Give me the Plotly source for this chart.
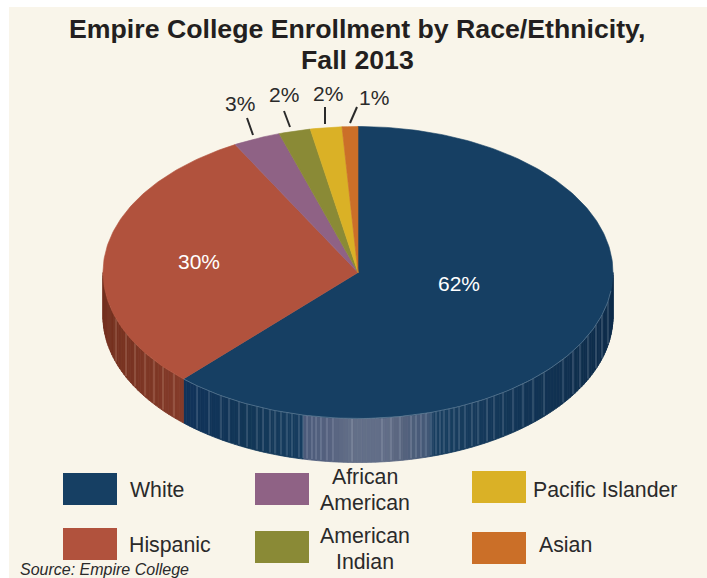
import numpy as np
import plotly.graph_objects as go

# ---- data
categories = ["White", "Hispanic", "African American", "American Indian", "Pacific Islander", "Asian"]
shares = [62, 30, 3, 2, 2, 1]
percent_labels = ["62%", "30%", "3%", "2%", "2%", "1%"]
colors = ["#163F63", "#B1523D", "#8F6285", "#8A8A36", "#DAB126", "#CB6F28"]
legend_labels = ["White", "Hispanic", "African<br>American", "American<br>Indian", "Pacific Islander", "Asian"]
title_lines = ["Empire College Enrollment by Race/Ethnicity,", "Fall 2013"]

W, H = 707, 578
CX, CY, RX, RY, DEPTH = 358, 272.5, 255, 146, 44
BG = "#F9F5EA"
FONT = "Liberation Sans"
INK = "#2A2A2A"

def pt(a, dy=0.0):
    """a = clockwise fraction of the circle from 12 o'clock."""
    t = 2 * np.pi * np.asarray(a, float)
    return CX + RX * np.sin(t), CY - RY * np.cos(t) + dy

def hexmix(c1, c2, f):
    a = [int(c1[i:i + 2], 16) for i in (1, 3, 5)]
    b = [int(c2[i:i + 2], 16) for i in (1, 3, 5)]
    return "#" + "".join(f"{int(round(x + (y - x) * f)):02X}" for x, y in zip(a, b))

def wall_color(x, is_blue):
    if not is_blue:
        return hexmix("#74301F", "#853C2A", np.clip((x - 103) / 82, 0, 1))
    stops_x = [185, 250, 302, 304, 330, 350, 385, 400, 430, 432, 520, 613]
    stops_c = ["#11335A", "#123757", "#163D60", "#4A5A7A", "#56627F", "#636F88",
               "#626E88", "#58657F", "#3F5575", "#193F61", "#123556", "#0E2C4A"]
    i = int(np.clip(np.searchsorted(stops_x, x) - 1, 0, len(stops_x) - 2))
    f = (x - stops_x[i]) / (stops_x[i + 1] - stops_x[i])
    return hexmix(stops_c[i], stops_c[i + 1], f)

fig = go.Figure()
total = sum(shares)
edges = np.cumsum([0] + shares) / total

def poly(xs, ys, color, line=None, lw=1.0):
    fig.add_trace(go.Scatter(x=xs, y=ys, mode="lines", fill="toself", fillcolor=color,
                             line=dict(color=line or color, width=lw),
                             hoverinfo="skip", showlegend=False))

# side wall: only the visible (front) arcs of White and Hispanic
blue_end = edges[1]
for lo, hi, blue in [(0.25, blue_end, True), (blue_end, 0.75, False)]:
    steps = np.linspace(lo, hi, 131 if blue else 41)
    for a0, a1 in zip(steps[:-1], steps[1:]):
        aa = np.linspace(a0, a1, 3)
        xt, yt = pt(aa)
        xb, yb = pt(aa[::-1], DEPTH)
        xm = CX + RX * np.sin(2 * np.pi * (a0 + a1) / 2)
        poly(np.r_[xt, xb, xt[0]], np.r_[yt, yb, yt[0]], wall_color(xm, blue), lw=0.8)

# facet ribs of the wall, as horizontal offsets on the ellipse
rib_x = [116, 126, 135, 145, 154, 163, 174,
         197, 209, 221, 229, 239, 247, 257, 263, 270, 275, 281, 287, 292, 299,
         303, 307, 312, 316, 321, 327, 333, 352, 382, 391, 400, 411, 416, 421,
         426, 431, 436, 440, 444, 449, 454, 459, 465, 472, 478, 487, 494, 503, 513,
         523, 533, 544, 563, 573, 580, 588, 596, 602, 608]
for x in rib_x:
    s = np.sqrt(max(0, 1 - ((x - CX) / RX) ** 2))
    ytop = CY + RY * s
    dark = x < 185
    col = "rgba(225,190,170,0.38)" if dark else "rgba(215,222,232,0.30)"
    fig.add_trace(go.Scatter(x=[x, x], y=[ytop, ytop + DEPTH - 1], mode="lines",
                             line=dict(color=col, width=1), hoverinfo="skip", showlegend=False))

# top face wedges
for i, c in enumerate(colors):
    aa = np.linspace(edges[i], edges[i + 1], max(4, int(shares[i] * 4)))
    xs, ys = pt(aa)
    poly(np.r_[CX, xs, CX], np.r_[CY, ys, CY], c, line=c, lw=0.6)

# pale rim on the front-right edge of the top face
aa = np.linspace(0.27, blue_end, 120)
xs, ys = pt(aa)
fig.add_trace(go.Scatter(x=xs, y=ys, mode="lines", line=dict(color="rgba(190,205,220,0.30)", width=1),
                         hoverinfo="skip", showlegend=False))

shapes = [dict(type="rect", xref="x", yref="y", x0=9, x1=W, y0=7, y1=H, fillcolor=BG,
               line_width=0, layer="below")]

# leaders
leaders = [((247, 118), (253, 135)), ((284, 111), (290, 127)), ((325, 107), (325, 124)), ((357, 107), (350, 123))]
for (x0, y0), (x1, y1) in leaders:
    shapes.append(dict(type="line", xref="x", yref="y", x0=x0, y0=y0, x1=x1, y1=y1,
                       line=dict(color=INK, width=2)))

# legend swatches
swatches = [(63, 473), (63, 528), (255, 473), (255, 531), (472, 471), (472, 532)]
for (x, y), c in zip(swatches, colors):
    shapes.append(dict(type="rect", xref="x", yref="y", x0=x, x1=x + 54, y0=y, y1=y + 32,
                       fillcolor=c, line_width=0))

ann = []
def text(x, y, s, size=21, color=INK, **kw):
    ann.append(dict(x=x, y=y, xref="x", yref="y", text=s, showarrow=False,
                    font=dict(family=FONT, size=size, color=color),
                    xanchor="center", yanchor="middle", **kw))

for y, line in zip((29, 60), title_lines):
    text(357, y, f"<b>{line}</b>", size=26.7, color="#231F20")

label_pos = [(459, 283), (199, 261), (240, 103), (284, 94), (328, 93), (374, 97)]
for (x, y), s, i in zip(label_pos, percent_labels, range(6)):
    text(x, y, s, color="#FFFFFF" if i < 2 else INK)

legend_pos = [(157, 490), (170, 545), (365, 490), (365, 549), (605, 490), (565, 545)]
for (x, y), s in zip(legend_pos, legend_labels):
    parts = s.split("<br>")
    for k, part in enumerate(parts):
        text(x, y + (k - (len(parts) - 1) / 2) * 26, part, size=21.3)

text(104, 569, "<i>Source: Empire College</i>", size=16)

fig.update_layout(
    width=W, height=H, margin=dict(l=0, r=0, t=0, b=0), autosize=False,
    paper_bgcolor="#FFFFFF", plot_bgcolor="#FFFFFF",
    xaxis=dict(range=[0, W], visible=False, fixedrange=True),
    yaxis=dict(range=[H, 0], visible=False, fixedrange=True),
    shapes=shapes, annotations=ann, showlegend=False,
)
fig.write_html("out.html", config=dict(displayModeBar=False),
               post_script="document.body.style.margin='0';document.body.style.overflow='hidden';")
